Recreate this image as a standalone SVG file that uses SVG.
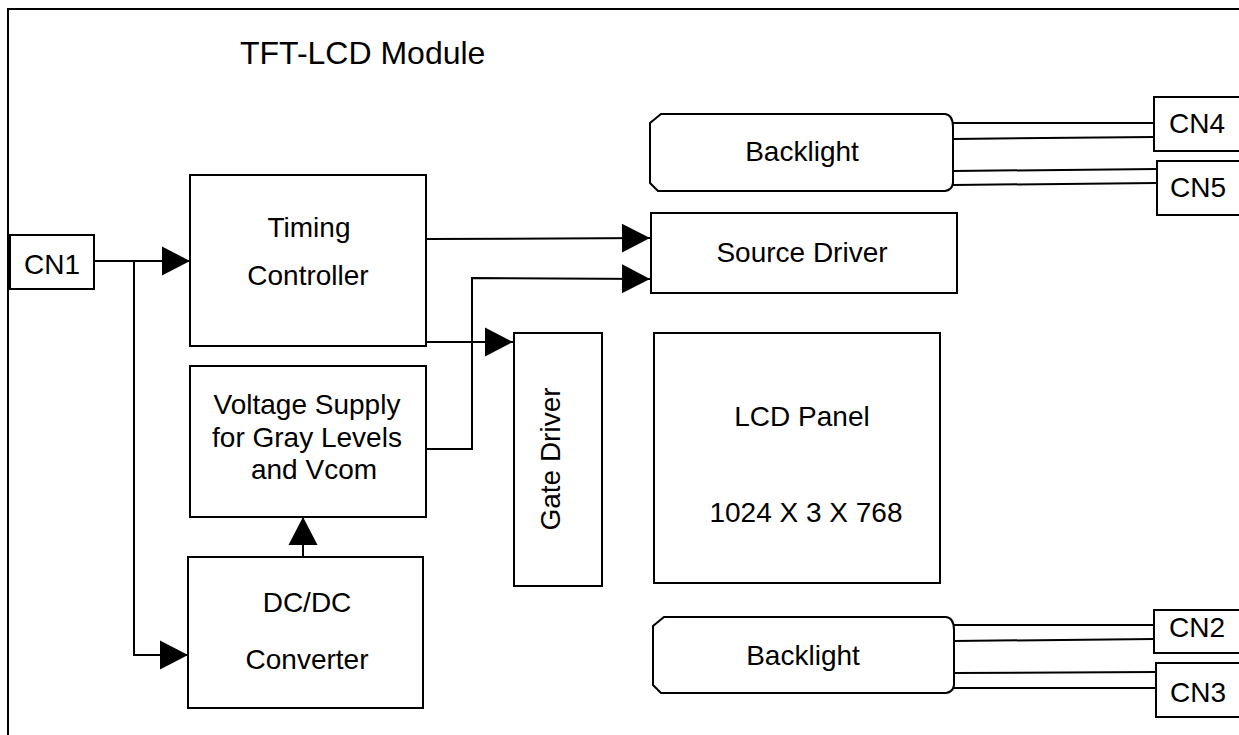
<svg xmlns="http://www.w3.org/2000/svg" width="1239" height="735" viewBox="0 0 1239 735">
<defs>
<marker id="arr" markerUnits="userSpaceOnUse" markerWidth="30" markerHeight="30" refX="28" refY="14.5" orient="auto" overflow="visible">
<path d="M0,0 L28,14.5 L0,29 Z" fill="#000"/>
</marker>
<style>
.box{fill:#fff;stroke:#000;stroke-width:2}
.ln{fill:none;stroke:#000;stroke-width:2}
.t{font-family:"Liberation Sans",Arial,sans-serif;font-size:28px;fill:#000;text-anchor:middle}
</style>
</defs>
<rect width="1239" height="735" fill="#fff"/>
<g id="frame">
<rect x="8" y="9" width="1250" height="740" fill="none" stroke="#000" stroke-width="2"/>
<text x="240" y="64" font-family="Liberation Sans, Arial, sans-serif" font-size="32" fill="#000">TFT-LCD Module</text>
</g>
<g id="connectors">
<polyline class="ln" points="94,261 190,261" marker-end="url(#arr)"/>
<polyline class="ln" points="134,261 134,655 188,655" marker-end="url(#arr)"/>
<polyline class="ln" points="426,239 650,238" marker-end="url(#arr)"/>
<polyline class="ln" points="426,449 472,449 472,278 650,279" marker-end="url(#arr)"/>
<polyline class="ln" points="426,342 513,342" marker-end="url(#arr)"/>
<polyline class="ln" points="303,557 303,517" marker-end="url(#arr)"/>
<line class="ln" x1="953" y1="123" x2="1154" y2="123"/>
<line class="ln" x1="953" y1="139" x2="1154" y2="137"/>
<line class="ln" x1="953" y1="171" x2="1157" y2="169"/>
<line class="ln" x1="953" y1="185" x2="1157" y2="183"/>
<line class="ln" x1="954" y1="625" x2="1154" y2="625"/>
<line class="ln" x1="954" y1="641" x2="1154" y2="639"/>
<line class="ln" x1="954" y1="673" x2="1156" y2="672"/>
<line class="ln" x1="954" y1="688" x2="1156" y2="688"/>
</g>
<g id="cn1">
<rect class="box" x="10" y="235" width="84" height="54"/>
<text class="t" x="52" y="274">CN1</text>
</g>
<g id="timing-controller">
<rect class="box" x="190" y="175" width="236" height="171"/>
<text class="t" x="309" y="237">Timing</text>
<text class="t" x="308" y="285">Controller</text>
</g>
<g id="voltage-supply">
<rect class="box" x="190" y="366" width="236" height="151"/>
<text class="t" x="307" y="414">Voltage Supply</text>
<text class="t" x="307" y="447">for Gray Levels</text>
<text class="t" x="314" y="479">and Vcom</text>
</g>
<g id="dcdc">
<rect class="box" x="188" y="557" width="235" height="151"/>
<text class="t" x="307" y="612">DC/DC</text>
<text class="t" x="307" y="669">Converter</text>
</g>
<g id="gate-driver">
<rect class="box" x="514" y="333" width="88" height="253"/>
<text class="t" transform="translate(560,459) rotate(-90)" x="0" y="0">Gate Driver</text>
</g>
<g id="source-driver">
<rect class="box" x="651" y="213" width="306" height="80"/>
<text class="t" x="802" y="262">Source Driver</text>
</g>
<g id="lcd-panel">
<rect class="box" x="654" y="333" width="286" height="250"/>
<text class="t" x="802" y="426">LCD Panel</text>
<text class="t" x="806" y="522">1024 X 3 X 768</text>
</g>
<g id="backlight-top">
<path class="box" d="M661,114 L945,114 Q953,115 953,127 L953,183 Q952,190 945,191 L658,191 L650,183 L650,123 Z"/>
<text class="t" x="802" y="161">Backlight</text>
</g>
<g id="backlight-bottom">
<path class="box" d="M664,617 L946,617 Q954,618 954,630 L954,685 Q953,692 946,693 L661,693 L653,685 L653,626 Z"/>
<text class="t" x="803" y="665">Backlight</text>
</g>
<g id="cn4">
<rect class="box" x="1154" y="97" width="95" height="54"/>
<text class="t" x="1197" y="133">CN4</text>
</g>
<g id="cn5">
<rect class="box" x="1157" y="161" width="95" height="54"/>
<text class="t" x="1198" y="197">CN5</text>
</g>
<g id="cn2">
<rect class="box" x="1154" y="610" width="95" height="43"/>
<text class="t" x="1197" y="637">CN2</text>
</g>
<g id="cn3">
<rect class="box" x="1156" y="663" width="95" height="54"/>
<text class="t" x="1198" y="702">CN3</text>
</g>
</svg>
